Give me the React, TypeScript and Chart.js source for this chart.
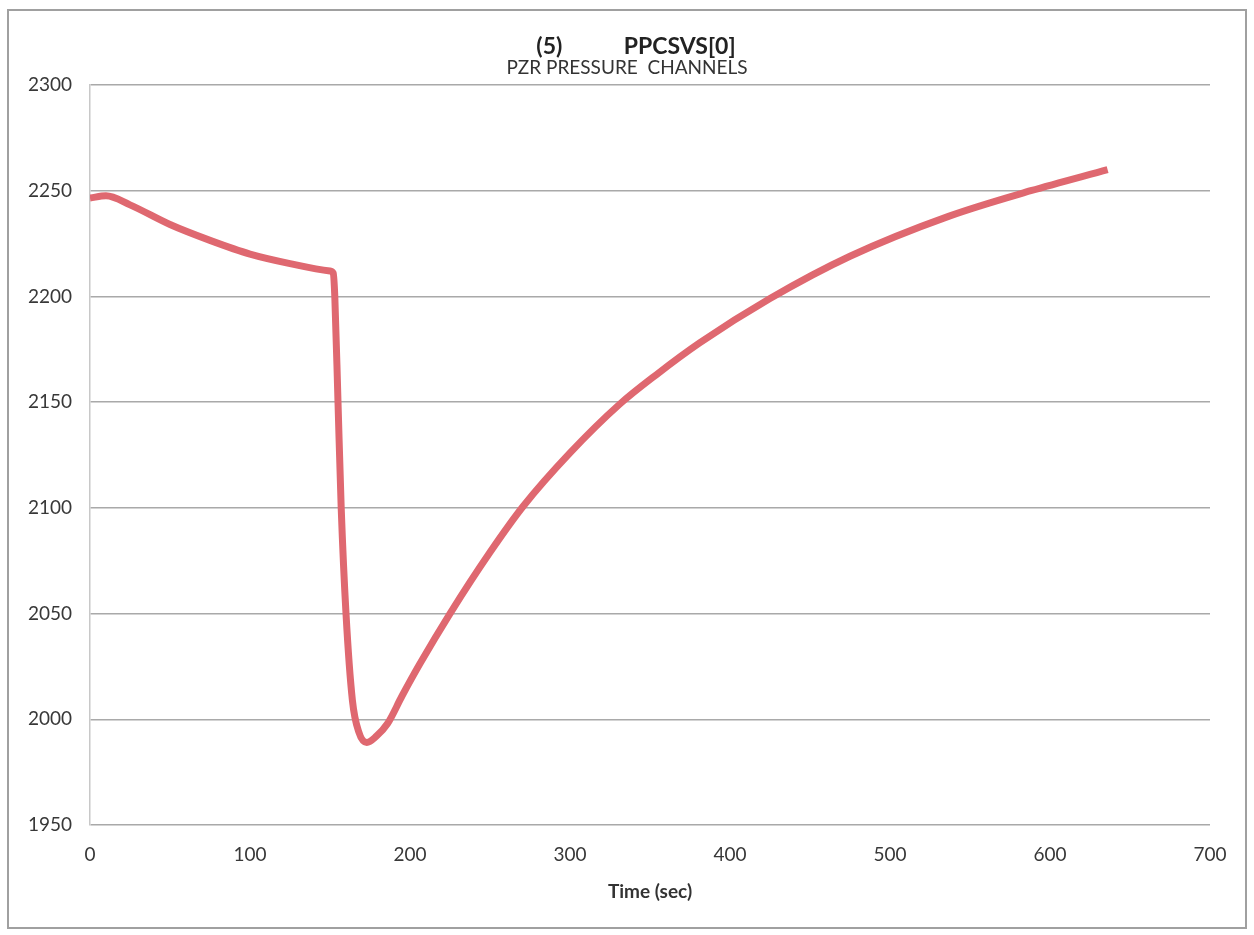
import React, { useEffect, useRef } from "react";
import { Chart, registerables } from "chart.js";

Chart.register(...registerables);

const timeSec = [0, 10, 25, 50, 75, 100, 125, 150, 152, 153, 155, 157, 160, 164, 168, 173, 179, 186, 195, 206, 225, 250, 271, 300, 331, 354, 381, 425, 475, 537, 588, 636];
const pzrPressure = [2246.5, 2247.6, 2243.3, 2234, 2226.5, 2220, 2215.5, 2212, 2211, 2200, 2150, 2100, 2050, 2009, 1994, 1989, 1992, 1998, 2011, 2026, 2050, 2079, 2101, 2126, 2149, 2163, 2178, 2199, 2219, 2238, 2250, 2260];

const yTicks = [1950, 2000, 2050, 2100, 2150, 2200, 2250, 2300];
const xTicks = [0, 100, 200, 300, 400, 500, 600, 700];

const titleMain = "(5)           PPCSVS[0]";
const titleSub = "PZR PRESSURE  CHANNELS";
const xAxisTitle = "Time (sec)";

const FONT = "Lato";

const titlePlugin = {
  id: "scanTitle",
  afterDraw(chart: any) {
    const ctx = chart.ctx;
    ctx.save();
    ctx.textAlign = "center";
    ctx.textBaseline = "middle";
    ctx.fillStyle = "#222";
    ctx.font = `bold 23px ${FONT}`;
    ctx.fillText(titleMain, 636, 47);
    ctx.fillStyle = "#333";
    ctx.font = `19px ${FONT}`;
    ctx.fillText(titleSub, 627, 68);
    ctx.restore();
  },
};

export default function App() {
  const ref = useRef<HTMLCanvasElement | null>(null);
  useEffect(() => {
    if (!ref.current) return;
    const points = timeSec.map((t, i) => ({ x: t, y: pzrPressure[i] }));
    const chart = new Chart(ref.current, {
      type: "line",
      data: {
        datasets: [
          {
            data: points,
            borderColor: "#df6870",
            borderWidth: 7,
            pointRadius: 0,
            cubicInterpolationMode: "monotone",
            fill: false,
          },
        ],
      },
      plugins: [titlePlugin],
      options: {
        animation: false,
        responsive: false,
        maintainAspectRatio: false,
        layout: { padding: { left: 8, right: 44, top: 85, bottom: 30 } },
        plugins: {
          legend: { display: false },
          tooltip: { enabled: false },
          title: { display: false },
        },
        scales: {
          x: {
            type: "linear",
            min: xTicks[0],
            max: xTicks[xTicks.length - 1],
            afterBuildTicks: (s: any) => {
              s.ticks = xTicks.map((v) => ({ value: v }));
            },
            ticks: {
              color: "#383838",
              font: { family: FONT, size: 19 },
              padding: 18,
              callback: (v: any) => String(v),
            },
            grid: { display: false, drawTicks: false },
            border: { display: false },
            title: {
              display: true,
              text: xAxisTitle,
              color: "#333",
              font: { family: FONT, size: 19, weight: "bold" },
              padding: { top: 4, bottom: 2 },
            },
            afterFit: (s: any) => {
              s.height = 80;
            },
          },
          y: {
            min: yTicks[0],
            max: yTicks[yTicks.length - 1],
            afterBuildTicks: (s: any) => {
              s.ticks = yTicks.map((v) => ({ value: v }));
            },
            ticks: {
              color: "#383838",
              font: { family: FONT, size: 19 },
              padding: 18,
              callback: (v: any) => String(v),
            },
            grid: { color: "rgba(140,140,140,0.75)", lineWidth: 1.5, drawTicks: false },
            border: { display: true, color: "#c8c8c8", width: 1.5 },
            afterFit: (s: any) => {
              s.width = 82;
            },
          },
        },
      },
    });
    return () => chart.destroy();
  }, []);
  return (
    <div style={{ position: "fixed", left: 0, top: 0, width: 1254, height: 935, background: "#fff" }}>
      <div
        style={{
          position: "absolute",
          left: 7,
          top: 9,
          width: 1236,
          height: 916,
          border: "2px solid #a0a0a0",
        }}
      />
      <canvas ref={ref} width={1254} height={935} style={{ position: "absolute", left: 0, top: 0 }} />
    </div>
  );
}
